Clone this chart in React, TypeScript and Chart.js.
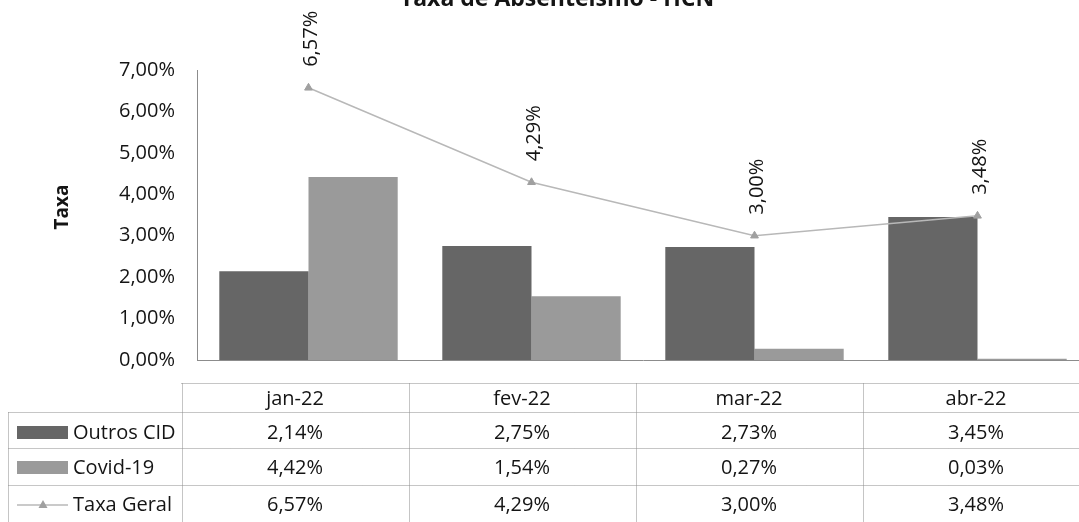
import React, { useEffect, useRef } from "react";
import { Chart, registerables } from "chart.js";

Chart.register(...registerables);

const categories = ["jan-22", "fev-22", "mar-22", "abr-22"];
const outrosCid = [2.14, 2.75, 2.73, 3.45];
const covid19 = [4.42, 1.54, 0.27, 0.03];
const taxaGeral = [6.57, 4.29, 3.0, 3.48];
const seriesNames = ["Outros CID", "Covid-19", "Taxa Geral"];
const chartTitle = "Taxa de Absenteísmo - HCN";
const yAxisTitle = "Taxa";
const yMin = 0;
const yMax = 7;
const yStep = 1;

const FONT = "'Open Sans', 'Noto Sans', sans-serif";
const COLOR_OUTROS = "#666666";
const COLOR_COVID = "#9a9a9a";
const COLOR_LINE = "#b8b8b8";
const COLOR_MARK = "#a0a0a0";
const TEXT = "#141414";
const GRID = "#8c8c8c";

const fmt = (v: number) => v.toFixed(2).replace(".", ",") + "%";

function dottedLine(ctx: CanvasRenderingContext2D, x1: number, y1: number, x2: number, y2: number) {
  ctx.beginPath();
  ctx.moveTo(x1, y1);
  ctx.lineTo(x2, y2);
  ctx.stroke();
}

const overlayPlugin = {
  id: "overlay",
  afterDraw(chart: any) {
    const ctx: CanvasRenderingContext2D = chart.ctx;
    ctx.save();
    ctx.fillStyle = TEXT;

    // title (cut at top like the reference)
    ctx.font = `bold 23px ${FONT}`;
    ctx.textAlign = "center";
    ctx.textBaseline = "alphabetic";
    ctx.fillText(chartTitle, 557, 6);

    // y axis title
    ctx.save();
    ctx.translate(63, 207);
    ctx.rotate(-Math.PI / 2);
    ctx.font = `bold 19px ${FONT}`;
    ctx.textAlign = "center";
    ctx.textBaseline = "middle";
    ctx.fillText(yAxisTitle, 0, 0);
    ctx.restore();

    // data labels of the line
    const meta = chart.getDatasetMeta(2);
    meta.data.forEach((pt: any, i: number) => {
      ctx.save();
      ctx.translate(pt.x + 3, pt.y - 21);
      ctx.rotate(-Math.PI / 2);
      ctx.font = `20px ${FONT}`;
      ctx.textAlign = "left";
      ctx.textBaseline = "middle";
      ctx.fillText(fmt(taxaGeral[i]), 0, 0);
      ctx.restore();
    });

    // data table
    const legendLeft = 8.5;
    const colLeft = 181.5;
    const colW = 227;
    const rowLines = [383.5, 412.5, 448.5, 485.5, 522.5];
    const right = chart.width;
    ctx.strokeStyle = GRID;
    ctx.lineWidth = 1;
    ctx.setLineDash([1, 1]);
    dottedLine(ctx, colLeft, rowLines[0], right, rowLines[0]);
    for (let r = 1; r < rowLines.length - 1; r++) dottedLine(ctx, legendLeft, rowLines[r], right, rowLines[r]);
    dottedLine(ctx, legendLeft, rowLines[1], legendLeft, rowLines[4]);
    for (let c = 0; c <= categories.length; c++) {
      const x = Math.round(colLeft + c * colW) + 0.5;
      dottedLine(ctx, x, rowLines[0], x, rowLines[4]);
    }
    ctx.setLineDash([]);

    const rows = [outrosCid, covid19, taxaGeral];
    const textY = [399, 433, 468, 505];
    ctx.font = `20px ${FONT}`;
    ctx.textAlign = "center";
    ctx.textBaseline = "middle";
    ctx.fillStyle = TEXT;
    categories.forEach((cat, c) => {
      const cx = colLeft + c * colW + colW / 2;
      ctx.fillText(cat, cx, textY[0]);
      rows.forEach((arr, r) => ctx.fillText(fmt(arr[c]), cx, textY[r + 1]));
    });

    // legend keys
    ctx.textAlign = "left";
    seriesNames.forEach((name, r) => {
      const y = textY[r + 1];
      if (r < 2) {
        ctx.fillStyle = r === 0 ? COLOR_OUTROS : COLOR_COVID;
        ctx.fillRect(17, y - 7, 51, 13);
      } else {
        ctx.strokeStyle = COLOR_LINE;
        ctx.lineWidth = 1.5;
        dottedLine(ctx, 17, y, 68, y);
        ctx.fillStyle = COLOR_MARK;
        ctx.beginPath();
        ctx.moveTo(43, y - 5);
        ctx.lineTo(47.5, y + 3);
        ctx.lineTo(38.5, y + 3);
        ctx.closePath();
        ctx.fill();
      }
      ctx.fillStyle = TEXT;
      ctx.fillText(name, 73, y);
    });

    ctx.restore();
  },
};

export default function App() {
  const canvasRef = useRef<HTMLCanvasElement | null>(null);

  useEffect(() => {
    if (!canvasRef.current) return;
    const chart = new Chart(canvasRef.current, {
      type: "bar",
      data: {
        labels: categories,
        datasets: [
          {
            type: "bar",
            label: seriesNames[0],
            data: outrosCid,
            backgroundColor: COLOR_OUTROS,
            borderWidth: 0,
            categoryPercentage: 0.8,
            barPercentage: 1.0,
            order: 1,
          },
          {
            type: "bar",
            label: seriesNames[1],
            data: covid19,
            backgroundColor: COLOR_COVID,
            borderWidth: 0,
            categoryPercentage: 0.8,
            barPercentage: 1.0,
            order: 1,
          },
          {
            type: "line",
            label: seriesNames[2],
            data: taxaGeral,
            borderColor: COLOR_LINE,
            borderWidth: 1.5,
            pointStyle: "triangle",
            pointRadius: 4.5,
            pointBackgroundColor: COLOR_MARK,
            pointBorderColor: COLOR_MARK,
            pointBorderWidth: 1,
            tension: 0,
            order: 0,
          },
        ],
      },
      options: {
        responsive: false,
        maintainAspectRatio: false,
        animation: false,
        layout: { padding: { left: 0, right: 11, top: 70, bottom: 162 } },
        plugins: {
          legend: { display: false },
          tooltip: { enabled: false },
          title: { display: false },
        },
        scales: {
          x: {
            type: "category",
            grid: { display: false },
            ticks: { display: false },
            border: { display: true, color: GRID, dash: [1, 1], width: 1 },
            afterFit: (s: any) => {
              s.height = 0;
            },
          },
          y: {
            min: yMin,
            max: yMax,
            grid: { display: false },
            border: { display: true, color: GRID, dash: [1, 1], width: 1 },
            ticks: {
              stepSize: yStep,
              padding: 14,
              color: TEXT,
              font: { family: FONT, size: 20 },
              callback: (v: any) => fmt(Number(v)),
            },
            afterFit: (s: any) => {
              s.width = 197;
            },
          },
        },
      },
      plugins: [overlayPlugin],
    } as any);
    return () => chart.destroy();
  }, []);

  return (
    <div
      style={{
        position: "fixed",
        left: 0,
        top: 0,
        width: 1079,
        height: 522,
        overflow: "hidden",
        background: "#fff",
      }}
    >
      <canvas ref={canvasRef} width={1100} height={522} style={{ display: "block", width: 1100, height: 522 }} />
    </div>
  );
}
